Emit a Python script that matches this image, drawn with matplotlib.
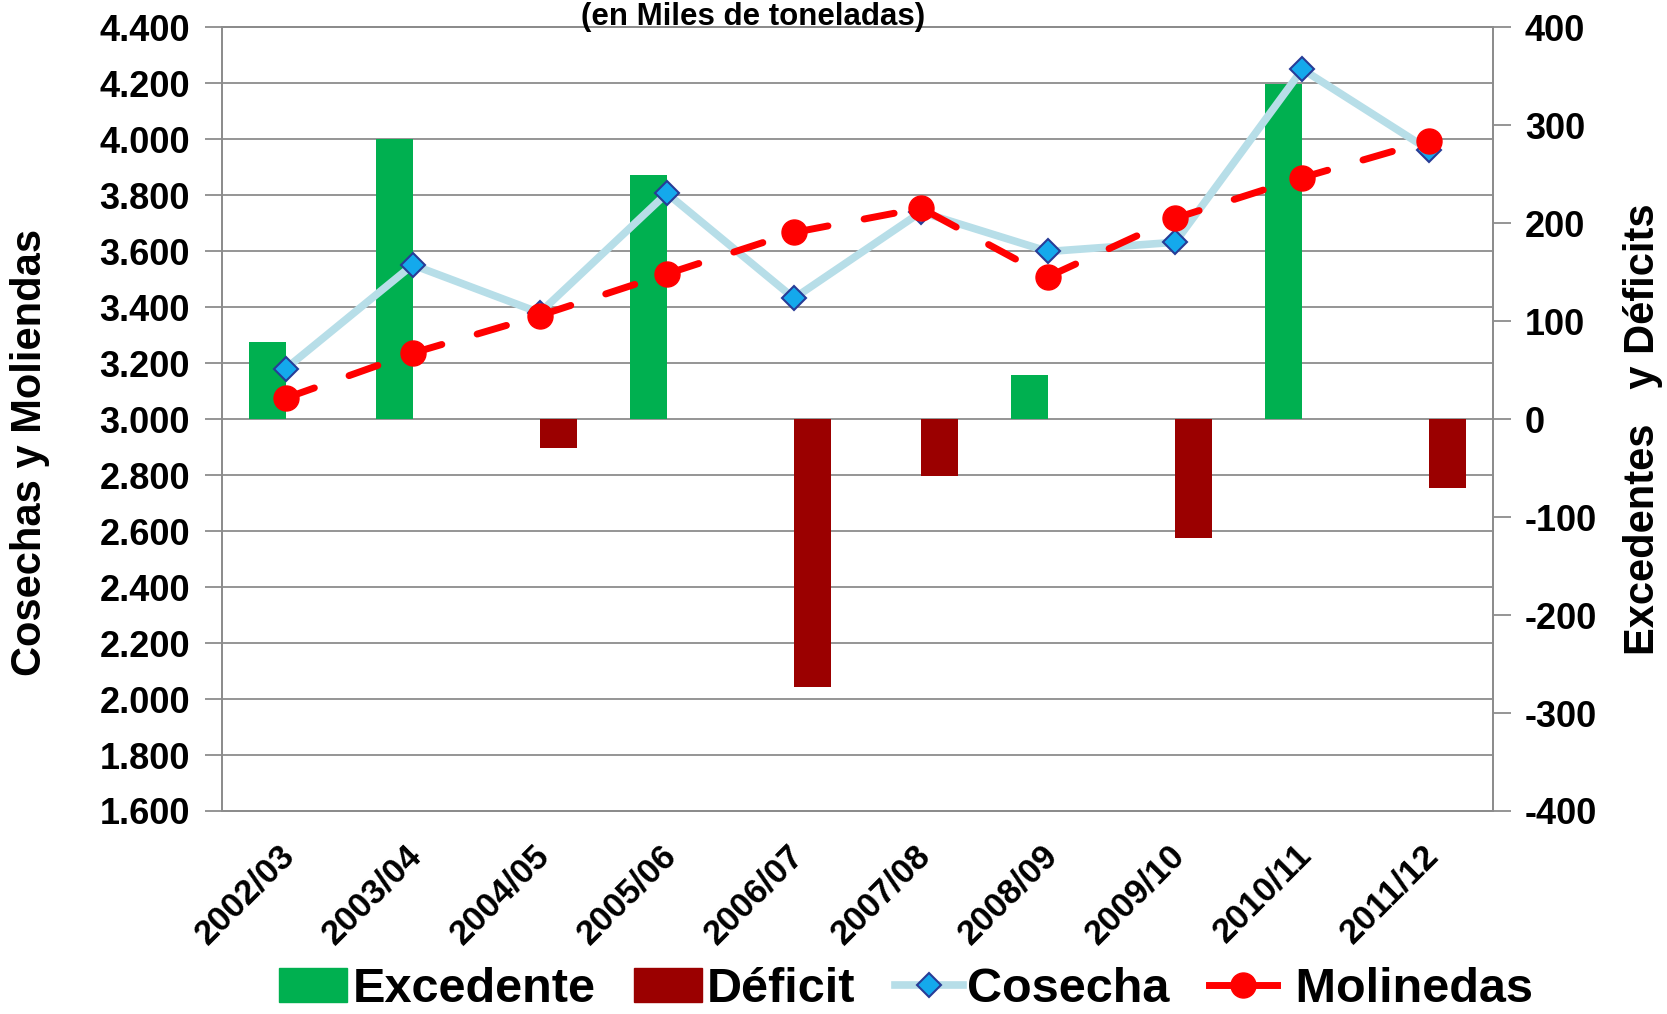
import numpy as np
import matplotlib
matplotlib.use('Agg')
import matplotlib.pyplot as plt
from matplotlib.transforms import blended_transform_factory, ScaledTranslation
from matplotlib.patches import Patch
from matplotlib.lines import Line2D

# ---------------- data ----------------
categories = ["2002/03", "2003/04", "2004/05", "2005/06", "2006/07",
              "2007/08", "2008/09", "2009/10", "2010/11", "2011/12"]
excedente = [79, 286, 0, 249, 0, 0, 45, 0, 342, 0]
deficit = [0, 0, -29, 0, -273, -58, 0, -121, 0, -70]
cosecha = [3180, 3551, 3380, 3807, 3432, 3740, 3599, 3632, 4250, 3961]
molinedas = [3075, 3236, 3370, 3519, 3667, 3754, 3509, 3718, 3863, 3995]

left_ticks = [1600, 1800, 2000, 2200, 2400, 2600, 2800, 3000,
              3200, 3400, 3600, 3800, 4000, 4200, 4400]
left_tick_labels = ["1.600", "1.800", "2.000", "2.200", "2.400", "2.600", "2.800",
                    "3.000", "3.200", "3.400", "3.600", "3.800", "4.000", "4.200", "4.400"]
right_ticks = [-400, -300, -200, -100, 0, 100, 200, 300, 400]
right_tick_labels = ["-400", "-300", "-200", "-100", "0", "100", "200", "300", "400"]

series_labels = ["Excedente", "Déficit", "Cosecha", " Molinedas"]
title = "(en Miles de toneladas)"
left_label = "Cosechas y Moliendas"
right_label = "Excedentes   y Déficits"

# ---------------- style ----------------
plt.rcParams['font.family'] = ['Liberation Sans', 'DejaVu Sans']
plt.rcParams['font.weight'] = 'bold'

GRID = '#8c8c8c'
GREEN = '#00B050'
DARKRED = '#9B0000'
LBLUE = '#B7DEE8'
RED = '#FF0000'

W, H = 1667, 1014
fig = plt.figure(figsize=(W / 100, H / 100), dpi=100)
ax1 = fig.add_axes([222 / W, 1 - 811 / H, (1493 - 222) / W, (811 - 27.3) / H])
ax2 = ax1.twinx()

x = np.arange(len(categories))

# bars (right axis)
bw = 0.29
ax2.bar(x - bw / 2, excedente, width=bw, color=GREEN, zorder=3)
ax2.bar(x + bw / 2, deficit, width=bw, color=DARKRED, zorder=3)
ax2.set_ylim(-400, 400)
ax1.set_ylim(1600, 4400)
ax1.set_xlim(-0.5, len(categories) - 0.5)

# horizontal gridlines from left axis, drawn behind the bars
tr = blended_transform_factory(ax2.transAxes, ax1.transData)
for v in left_ticks:
    ax2.plot([0, 1], [v, v], transform=tr, color=GRID, lw=1.3, zorder=1,
             clip_on=False)
# vertical gridlines at category boundaries
ax2.set_xticks(np.arange(-0.5, len(categories), 1.0), minor=True)
ax2.grid(True, which='minor', axis='x', color=GRID, lw=1.3)
ax2.set_axisbelow(True)

ax1.set_zorder(ax2.get_zorder() + 1)
ax1.patch.set_visible(False)

# lines (left axis)
ax1.plot(x, cosecha, color=LBLUE, lw=5.5, solid_joinstyle='round',
         marker='D', ms=12.5, mfc='#14A9EC', mec='#283C96', mew=1.5, zorder=3)
ax1.plot(x, molinedas, color=RED, lw=5, ls=(0, (4.4, 5.3)),
         dash_capstyle='round', marker='o', ms=18, mfc=RED,
         mec=RED, mew=1, zorder=4)

# ticks
ax1.set_yticks(left_ticks)
ax1.set_yticklabels(left_tick_labels)
ax2.set_yticks(right_ticks)
ax2.set_yticklabels(right_tick_labels)
ax1.tick_params(axis='y', direction='out', length=12, width=1.3, color=GRID,
                pad=11, labelsize=26)
ax2.tick_params(axis='y', direction='out', length=13, width=1.3, color=GRID,
                pad=10, labelsize=26)
ax1.set_xticks(x)
ax1.set_xticklabels(categories, rotation=45, ha='right', va='center',
                    rotation_mode='anchor')
ax1.tick_params(axis='x', which='both', length=0, pad=28, labelsize=25)
ax2.tick_params(axis='x', which='both', length=0)
off = ScaledTranslation(4 / 100, 0, fig.dpi_scale_trans)
for lbl in ax1.get_xticklabels():
    lbl.set_transform(lbl.get_transform() + off)

for a in (ax1, ax2):
    for s in a.spines.values():
        s.set_color(GRID)
        s.set_linewidth(1.3)

# texts
fig.text(753 / W, 1 - 25 / H, title, ha='center', va='baseline', fontsize=22.5)
fig.text(30 / W, 1 - 452 / H, left_label, rotation=90, ha='center', va='center',
         fontsize=30)
fig.text(1643 / W, 1 - 429 / H, right_label, rotation=90, ha='center',
         va='center', fontsize=30)

# legend
handles = [Patch(color=GREEN), Patch(color=DARKRED),
           Line2D([], [], color=LBLUE, lw=5.5, marker='D', ms=12.5,
                  mfc='#14A9EC', mec='#283C96', mew=1.5),
           Line2D([], [], color=RED, lw=5, marker='o', ms=18, mfc=RED,
                  mec=RED)]
fig.legend(handles, series_labels, loc='lower center',
           bbox_to_anchor=(0.5435, 0.002), ncol=4, frameon=False, fontsize=35,
           handlelength=1.4, handleheight=0.72, handletextpad=0.1,
           columnspacing=0.8, borderpad=0, borderaxespad=0)

fig.savefig('out.png', dpi=100)
